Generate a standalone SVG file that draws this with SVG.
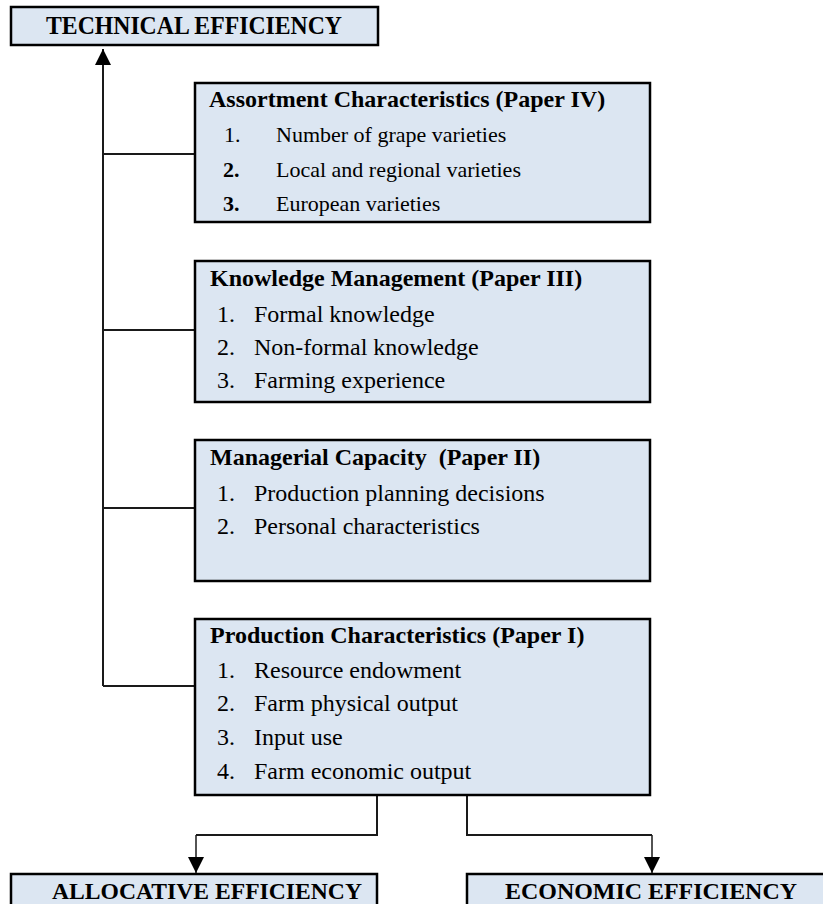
<svg xmlns="http://www.w3.org/2000/svg" width="823" height="904" viewBox="0 0 823 904">
<style>
.box{fill:#dce6f2;stroke:#000;stroke-width:2.5}
.t{font-family:"Liberation Serif","Times New Roman",serif;fill:#000}
.big{font-size:26px;font-weight:bold}
.big2{font-size:24px;font-weight:bold}
.hd{font-size:24px;font-weight:bold}
.it{font-size:24px}
.it1{font-size:22px}
.b{font-weight:bold}
.ln{fill:none;stroke:#1a1a1a;stroke-width:2}
.ln2{fill:none;stroke:#1a1a1a;stroke-width:1.5}
</style>
<defs>
<marker id="ah" viewBox="0 0 16 16" refX="16" refY="8" markerWidth="16" markerHeight="16" markerUnits="userSpaceOnUse" orient="auto">
<path d="M0,0 L16,8 L0,16 z" fill="#000"/>
</marker>
</defs>
<g id="connectors">
<path class="ln" d="M103,686 L103,49" marker-end="url(#ah)"/>
<path class="ln" d="M103,154 L195,154"/>
<path class="ln" d="M103,330 L195,330"/>
<path class="ln" d="M103,508 L195,508"/>
<path class="ln" d="M103,686 L195,686"/>
<path class="ln" d="M377,796 L377,835 L196,835"/>
<path class="ln2" d="M196,835 L196,873" marker-end="url(#ah)"/>
<path class="ln" d="M467,796 L467,835 L652,835"/>
<path class="ln2" d="M652,835 L652,873" marker-end="url(#ah)"/>
</g>
<g id="technical">
<rect class="box" x="11" y="7" width="367" height="38"/>
<text class="t big" x="194" y="34" text-anchor="middle" textLength="296" lengthAdjust="spacingAndGlyphs">TECHNICAL EFFICIENCY</text>
</g>
<g id="assortment">
<rect class="box" x="195" y="83" width="455" height="139"/>
<text class="t hd" x="209" y="107">Assortment Characteristics (Paper IV)</text>
<text class="t it1" x="224" y="142">1.</text><text class="t it1" x="276" y="142">Number of grape varieties</text>
<text class="t it1 b" x="223" y="177">2.</text><text class="t it1" x="276" y="177">Local and regional varieties</text>
<text class="t it1 b" x="223" y="211">3.</text><text class="t it1" x="276" y="211">European varieties</text>
</g>
<g id="knowledge">
<rect class="box" x="195" y="261" width="455" height="141"/>
<text class="t hd" x="210" y="286">Knowledge Management (Paper III)</text>
<text class="t it" x="217" y="322">1.</text><text class="t it" x="254" y="322">Formal knowledge</text>
<text class="t it" x="217" y="355">2.</text><text class="t it" x="254" y="355">Non-formal knowledge</text>
<text class="t it" x="217" y="388">3.</text><text class="t it" x="254" y="388">Farming experience</text>
</g>
<g id="managerial">
<rect class="box" x="195" y="440" width="455" height="141"/>
<text class="t hd" x="210" y="465" xml:space="preserve">Managerial Capacity  (Paper II)</text>
<text class="t it" x="217" y="501">1.</text><text class="t it" x="254" y="501">Production planning decisions</text>
<text class="t it" x="217" y="534">2.</text><text class="t it" x="254" y="534">Personal characteristics</text>
</g>
<g id="production">
<rect class="box" x="195" y="619" width="455" height="176"/>
<text class="t hd" x="210" y="643">Production Characteristics (Paper I)</text>
<text class="t it" x="217" y="678">1.</text><text class="t it" x="254" y="678">Resource endowment</text>
<text class="t it" x="217" y="711">2.</text><text class="t it" x="254" y="711">Farm physical output</text>
<text class="t it" x="217" y="745">3.</text><text class="t it" x="254" y="745">Input use</text>
<text class="t it" x="217" y="779">4.</text><text class="t it" x="254" y="779">Farm economic output</text>
</g>
<g id="allocative">
<rect class="box" x="11" y="874" width="366" height="40"/>
<text class="t big2" x="207" y="899" text-anchor="middle" textLength="310" lengthAdjust="spacingAndGlyphs">ALLOCATIVE EFFICIENCY</text>
</g>
<g id="economic">
<rect class="box" x="467" y="874" width="380" height="40"/>
<text class="t big2" x="651" y="899" text-anchor="middle" textLength="292" lengthAdjust="spacingAndGlyphs">ECONOMIC EFFICIENCY</text>
</g>
</svg>
